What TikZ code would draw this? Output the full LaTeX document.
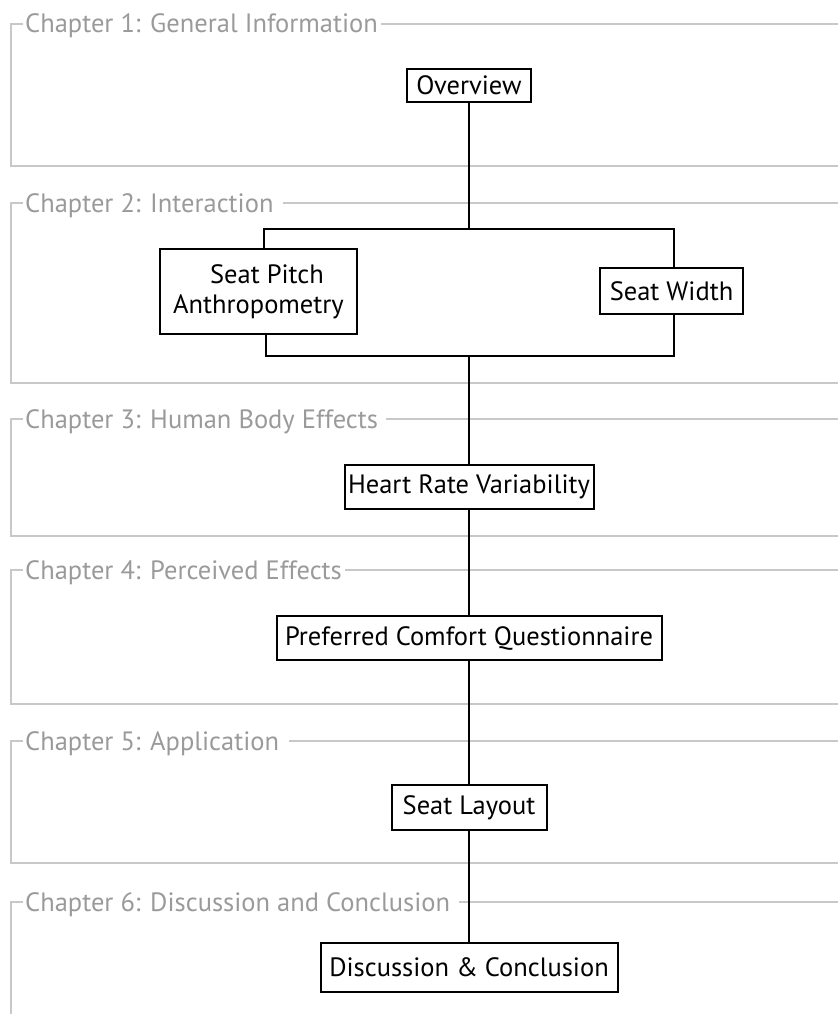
\documentclass[tikz,border=0pt]{standalone}
\usepackage{fontspec}
\setmainfont{PT Sans}
\definecolor{titlegray}{HTML}{9A9A9A}
\definecolor{framegray}{HTML}{C8C8C8}
\newcommand\boxfont{\fontsize{26.5}{30}\selectfont}
\begin{document}
\begin{tikzpicture}[x=1pt,y=-1pt,
  box/.style={draw=black,fill=white,line width=2pt,inner sep=0pt,align=center,font=\boxfont},
  frame/.style={draw=framegray,line width=2pt},
  chtitle/.style={anchor=base west,inner sep=0pt,text=titlegray,font=\boxfont},
  link/.style={draw=black,line width=2pt}]
\useasboundingbox (0,0) rectangle (838,1014);

% chapter frames
\node[chtitle] (t1) at (25,33) {Chapter 1: General Information};
\coordinate (c1) at (0,24);
\coordinate (e1) at ([xshift=3pt]t1.east);
\draw[frame] ([xshift=-2pt]t1.west |- c1) -- (11,24) -- (11,166) -- (838,166);
\draw[frame] (e1 |- c1) -- (838,24);

\node[chtitle] (t2) at (25,212) {Chapter 2: Interaction};
\coordinate (c2) at (0,203);
\coordinate (e2) at ([xshift=9pt]t2.east);
\draw[frame] ([xshift=-2pt]t2.west |- c2) -- (11,203) -- (11,383) -- (838,383);
\draw[frame] (e2 |- c2) -- (838,203);

\node[chtitle] (t3) at (25,428) {Chapter 3: Human Body Effects};
\coordinate (c3) at (0,419);
\coordinate (e3) at ([xshift=8pt]t3.east);
\draw[frame] ([xshift=-2pt]t3.west |- c3) -- (11,419) -- (11,536) -- (838,536);
\draw[frame] (e3 |- c3) -- (838,419);

\node[chtitle] (t4) at (25,579) {Chapter 4: Perceived Effects};
\coordinate (c4) at (0,570);
\coordinate (e4) at ([xshift=3pt]t4.east);
\draw[frame] ([xshift=-2pt]t4.west |- c4) -- (11,570) -- (11,704) -- (838,704);
\draw[frame] (e4 |- c4) -- (838,570);

\node[chtitle] (t5) at (25,750) {Chapter 5: Application};
\coordinate (c5) at (0,741);
\coordinate (e5) at ([xshift=10pt]t5.east);
\draw[frame] ([xshift=-2pt]t5.west |- c5) -- (11,741) -- (11,863) -- (838,863);
\draw[frame] (e5 |- c5) -- (838,741);

\node[chtitle] (t6) at (25,911) {Chapter 6: Discussion and Conclusion};
\coordinate (c6) at (0,902);
\coordinate (e6) at ([xshift=9pt]t6.east);
\draw[frame] ([xshift=-2pt]t6.west |- c6) -- (11,902) -- (11,1014);
\draw[frame] (e6 |- c6) -- (838,902);

% boxes
\node[box,minimum width=124pt,minimum height=33pt] (ov) at (469,85.5) {Overview};
\node[box,minimum width=197pt,minimum height=85pt] (sp) at (258.5,291.5) {\hspace*{17pt}Seat Pitch\\Anthropometry};
\node[box,minimum width=143pt,minimum height=46pt] (sw) at (671.5,291) {Seat Width};
\node[box,minimum width=249pt,minimum height=44pt] (hrv) at (469,487) {Heart Rate Variability};
\node[box,minimum width=385pt,minimum height=44pt] (pcq) at (469,638) {Preferred Comfort Questionnaire};
\node[box,minimum width=155pt,minimum height=45pt] (sl) at (469,807.5) {Seat Layout};
\node[box,minimum width=297pt,minimum height=49pt] (dc) at (469,967.5) {Discussion \& Conclusion};

% connectors
\coordinate (jt) at (469,229);
\coordinate (tl) at (264,229);
\coordinate (tr) at (674,229);
\coordinate (jb) at (469,356);
\coordinate (bl) at (266,356);
\coordinate (br) at (674,356);
\draw[link] (ov.south) -- (jt);
\draw[link] (sp.north -| tl) -- (tl) -- (tr) -- (sw.north -| tr);
\draw[link] (sp.south -| bl) -- (bl) -- (br) -- (sw.south -| br);
\draw[link] (jb) -- (hrv.north);
\draw[link] (hrv.south) -- (pcq.north);
\draw[link] (pcq.south) -- (sl.north);
\draw[link] (sl.south) -- (dc.north);
\end{tikzpicture}
\end{document}
